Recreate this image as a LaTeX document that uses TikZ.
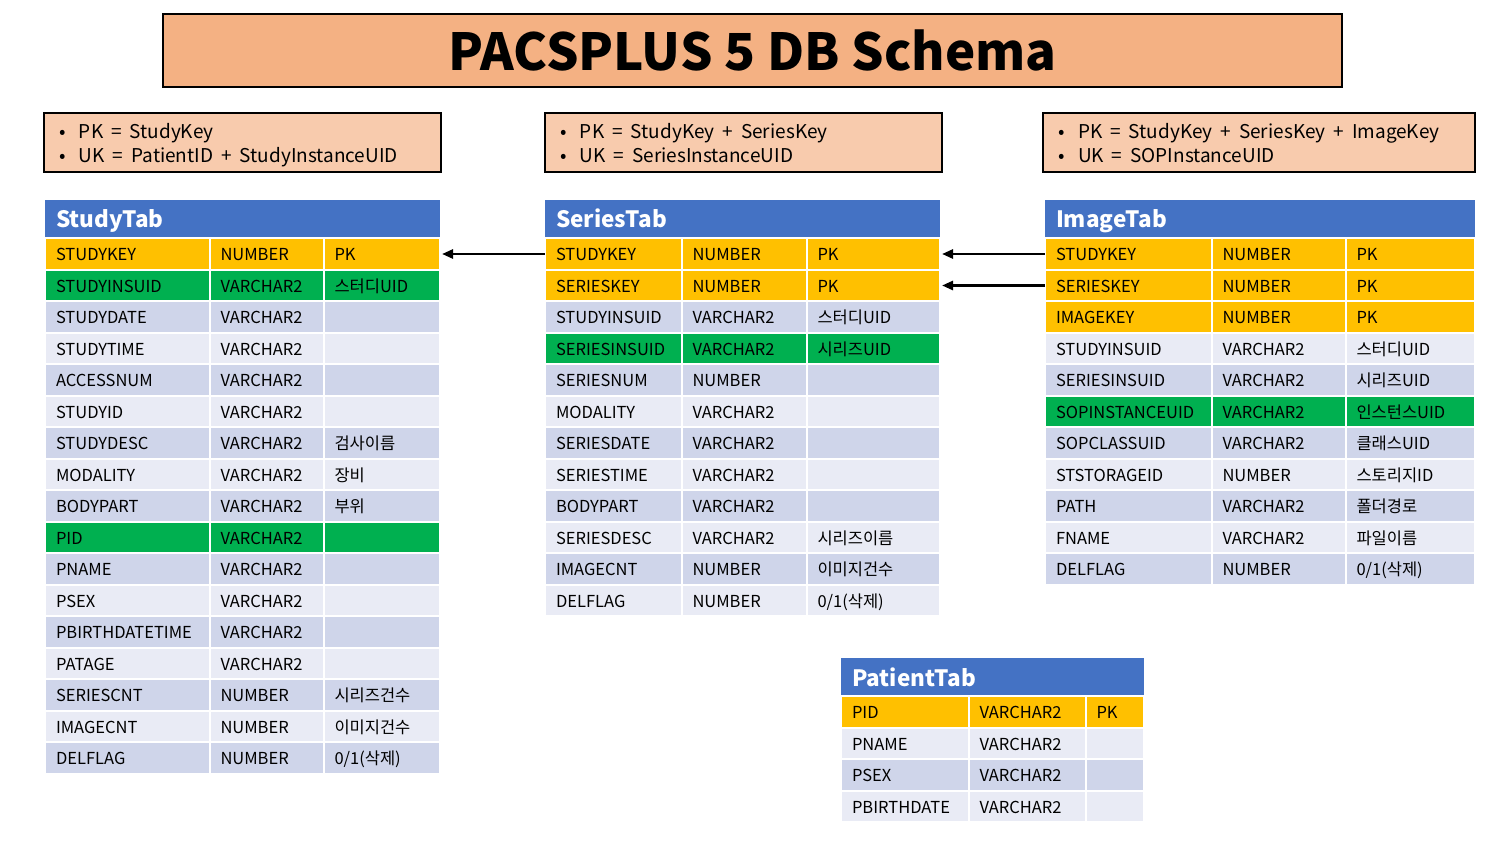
\documentclass[tikz,border=0pt]{standalone}
\usepackage{fontspec}
\setmainfont{Noto Sans CJK KR}
\usetikzlibrary{arrows.meta,positioning}
\definecolor{titlefill}{HTML}{F4B183}
\definecolor{notefill}{HTML}{F8CBAD}
\definecolor{headblue}{HTML}{4472C4}
\definecolor{keyyellow}{HTML}{FFC000}
\definecolor{uidgreen}{HTML}{00B050}
\definecolor{rowdark}{HTML}{CFD5EA}
\definecolor{rowlight}{HTML}{E9EBF5}
\newcommand{\delnote}{0/1(삭제)}
\newcommand{\wsp}{\hspace{0.42em}}
\tikzset{
  cell/.style={draw=white, line width=2pt, anchor=north west, outer sep=0pt,
    minimum height=31.5pt, inner xsep=11pt, inner ysep=0pt, align=left,
    text height=14pt, text depth=1pt, font=\fontsize{16.5}{18}\selectfont},
  keyrow/.style={fill=keyyellow},
  uidrow/.style={fill=uidgreen},
  darkrow/.style={fill=rowdark},
  lightrow/.style={fill=rowlight},
  tabhead/.style={fill=headblue, text=white, anchor=north west, outer sep=0pt,
    minimum height=38pt, inner xsep=11pt, inner ysep=0pt, align=left,
    text height=20pt, text depth=2pt,
    font=\bfseries\fontsize{22.5}{26}\selectfont},
  keynote/.style={draw=black, line width=2pt, fill=notefill, anchor=north west,
    outer sep=0pt, minimum height=59pt, inner xsep=15pt, inner ysep=0pt, align=left,
    text height=17pt, text depth=25pt,
    font=\fontsize{19}{24}\selectfont},
  fk/.style={-{Triangle[length=11pt,width=9pt]}, line width=2.6pt}
}
\newcommand{\bul}{\makebox[20pt][l]{•}}
\begin{document}
\begin{tikzpicture}[x=1pt,y=-1pt]
\useasboundingbox (0,0) rectangle (1495,850);
% title
\node[draw=black, line width=1.3pt, fill=titlefill, anchor=north west, outer sep=0pt,
  minimum width=1179pt, minimum height=73pt,
  font=\bfseries\fontsize{51}{56}\selectfont] (title) at (163,14) {PACSPLUS 5 DB Schema};
% key notes
\node[keynote, text width=367pt] (stnote) at (44,113)
  {\bul PK\wsp=\wsp StudyKey\\\bul UK\wsp=\wsp PatientID\wsp+\wsp StudyInstanceUID};
\node[keynote, text width=367pt] (senote) at (545,113)
  {\bul PK\wsp=\wsp StudyKey\wsp+\wsp SeriesKey\\\bul UK\wsp=\wsp SeriesInstanceUID};
\node[keynote, text width=402pt] (imnote) at (1043,113)
  {\bul PK\wsp=\wsp StudyKey\wsp+\wsp SeriesKey\wsp+\wsp ImageKey\\\bul UK\wsp=\wsp SOPInstanceUID};
% StudyTab
\node[tabhead, text width=373pt] (sthead) at (45,200) {StudyTab};
\foreach \fname/\ftype/\fnote/\frow [count=\i] in {
  STUDYKEY/NUMBER/PK/keyrow, STUDYINSUID/VARCHAR2/스터디UID/uidrow,
  STUDYDATE/VARCHAR2//darkrow, STUDYTIME/VARCHAR2//lightrow,
  ACCESSNUM/VARCHAR2//darkrow, STUDYID/VARCHAR2//lightrow,
  STUDYDESC/VARCHAR2/검사이름/darkrow, MODALITY/VARCHAR2/장비/lightrow,
  BODYPART/VARCHAR2/부위/darkrow, PID/VARCHAR2//uidrow,
  PNAME/VARCHAR2//darkrow, PSEX/VARCHAR2//lightrow,
  PBIRTHDATETIME/VARCHAR2//darkrow, PATAGE/VARCHAR2//lightrow,
  SERIESCNT/NUMBER/시리즈건수/darkrow, IMAGECNT/NUMBER/이미지건수/lightrow,
  DELFLAG/NUMBER/\delnote/darkrow}{
  \pgfmathsetmacro{\ytop}{238.25+(\i-1)*31.5}
  \node[cell, \frow, text width=142.5pt] (st-\i-1) at (45,\ytop) {\fname};
  \node[cell, \frow, text width=92pt] (st-\i-2) at (209.5,\ytop) {\ftype};
  \node[cell, \frow, text width=94.5pt] (st-\i-3) at (323.5,\ytop) {\fnote};
}
% SeriesTab
\node[tabhead, text width=373pt] (sehead) at (545,200) {SeriesTab};
\foreach \fname/\ftype/\fnote/\frow [count=\i] in {
  STUDYKEY/NUMBER/PK/keyrow, SERIESKEY/NUMBER/PK/keyrow,
  STUDYINSUID/VARCHAR2/스터디UID/darkrow, SERIESINSUID/VARCHAR2/시리즈UID/uidrow,
  SERIESNUM/NUMBER//darkrow, MODALITY/VARCHAR2//lightrow,
  SERIESDATE/VARCHAR2//darkrow, SERIESTIME/VARCHAR2//lightrow,
  BODYPART/VARCHAR2//darkrow, SERIESDESC/VARCHAR2/시리즈이름/lightrow,
  IMAGECNT/NUMBER/이미지건수/darkrow, DELFLAG/NUMBER/\delnote/lightrow}{
  \pgfmathsetmacro{\ytop}{238.25+(\i-1)*31.5}
  \node[cell, \frow, text width=114.5pt] (se-\i-1) at (545,\ytop) {\fname};
  \node[cell, \frow, text width=103pt] (se-\i-2) at (681.5,\ytop) {\ftype};
  \node[cell, \frow, text width=111.5pt] (se-\i-3) at (806.5,\ytop) {\fnote};
}
% ImageTab
\node[tabhead, text width=408pt] (imhead) at (1045,200) {ImageTab};
\foreach \fname/\ftype/\fnote/\frow [count=\i] in {
  STUDYKEY/NUMBER/PK/keyrow, SERIESKEY/NUMBER/PK/keyrow,
  IMAGEKEY/NUMBER/PK/keyrow, STUDYINSUID/VARCHAR2/스터디UID/lightrow,
  SERIESINSUID/VARCHAR2/시리즈UID/darkrow, SOPINSTANCEUID/VARCHAR2/인스턴스UID/uidrow,
  SOPCLASSUID/VARCHAR2/클래스UID/darkrow, STSTORAGEID/NUMBER/스토리지ID/lightrow,
  PATH/VARCHAR2/폴더경로/darkrow, FNAME/VARCHAR2/파일이름/lightrow,
  DELFLAG/NUMBER/\delnote/darkrow}{
  \pgfmathsetmacro{\ytop}{238.25+(\i-1)*31.5}
  \node[cell, \frow, text width=144.5pt] (im-\i-1) at (1045,\ytop) {\fname};
  \node[cell, \frow, text width=112pt] (im-\i-2) at (1211.5,\ytop) {\ftype};
  \node[cell, \frow, text width=107.5pt] (im-\i-3) at (1345.5,\ytop) {\fnote};
}
% PatientTab
\node[tabhead, text width=281pt] (pahead) at (841,658) {PatientTab};
\foreach \fname/\ftype/\fnote/\frow [count=\i] in {
  PID/VARCHAR2/PK/keyrow, PNAME/VARCHAR2//lightrow,
  PSEX/VARCHAR2//darkrow, PBIRTHDATE/VARCHAR2//lightrow}{
  \pgfmathsetmacro{\ytop}{696.25+(\i-1)*31.5}
  \node[cell, \frow, text width=105.5pt] (pa-\i-1) at (841,\ytop) {\fname};
  \node[cell, \frow, text width=95pt] (pa-\i-2) at (968.5,\ytop) {\ftype};
  \node[cell, \frow, text width=36.5pt] (pa-\i-3) at (1085.5,\ytop) {\fnote};
}
% foreign keys
\draw[fk] (se-1-1.west) -- ([xshift=2pt]st-1-3.east);
\draw[fk] (im-1-1.west) -- ([xshift=2pt]se-1-3.east);
\draw[fk] (im-2-1.west) -- ([xshift=2pt]se-2-3.east);
\end{tikzpicture}
\end{document}
